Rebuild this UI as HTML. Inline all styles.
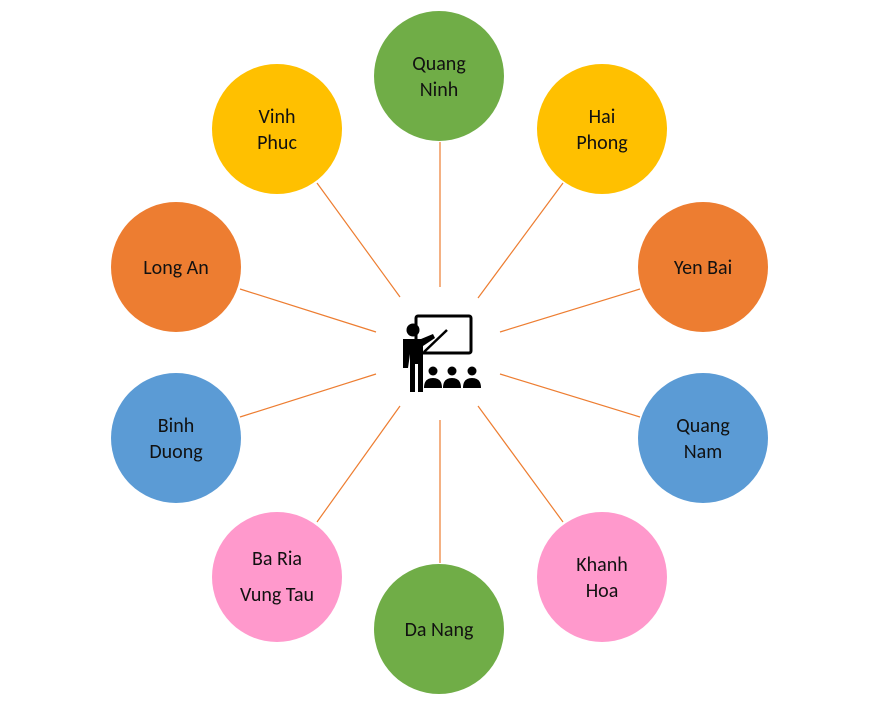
<html><body style="margin:0;background:#fff;width:883px;height:716px;overflow:hidden">
<svg width="883" height="716" xmlns="http://www.w3.org/2000/svg" font-family="Calibri, 'Liberation Sans', sans-serif" font-size="20" text-anchor="middle">
<g stroke="#ED7D31" stroke-width="1.2">
<line x1="440" y1="142" x2="440" y2="287"/><line x1="440" y1="420" x2="440" y2="563"/>
<line x1="317" y1="183" x2="400" y2="297"/><line x1="563" y1="183" x2="478" y2="298"/>
<line x1="240" y1="289" x2="376" y2="332"/><line x1="640" y1="289" x2="500" y2="332"/>
<line x1="240" y1="417" x2="376" y2="374"/><line x1="640" y1="417" x2="500" y2="374"/>
<line x1="317" y1="522" x2="400" y2="406"/><line x1="563" y1="522" x2="478" y2="406"/>
</g>
<circle cx="439" cy="76" r="65" fill="#70AD47"/>
<circle cx="277" cy="129" r="65" fill="#FFC000"/>
<circle cx="602" cy="129" r="65" fill="#FFC000"/>
<circle cx="176" cy="267" r="65" fill="#ED7D31"/>
<circle cx="703" cy="267" r="65" fill="#ED7D31"/>
<circle cx="176" cy="438" r="65" fill="#5B9BD5"/>
<circle cx="703" cy="438" r="65" fill="#5B9BD5"/>
<circle cx="277" cy="577" r="65" fill="#FF99CC"/>
<circle cx="602" cy="577" r="65" fill="#FF99CC"/>
<circle cx="439" cy="629" r="65" fill="#70AD47"/>
<g fill="#111">
<text x="439" y="70">Quang</text><text x="439" y="96">Ninh</text>
<text x="277" y="123">Vinh</text><text x="277" y="149">Phuc</text>
<text x="602" y="123">Hai</text><text x="602" y="149">Phong</text>
<text x="176" y="274">Long An</text><text x="703" y="274">Yen Bai</text>
<text x="176" y="432">Binh</text><text x="176" y="458">Duong</text>
<text x="703" y="432">Quang</text><text x="703" y="458">Nam</text>
<text x="277" y="565">Ba Ria</text><text x="277" y="601">Vung Tau</text>
<text x="602" y="571">Khanh</text><text x="602" y="597">Hoa</text>
<text x="439" y="636">Da Nang</text>
</g>
<rect x="416" y="316" width="55" height="37" rx="2" fill="none" stroke="#000" stroke-width="3"/>
<line x1="424" y1="352" x2="447" y2="330" stroke="#000" stroke-width="2.5"/>
<circle cx="413" cy="330" r="6.5" fill="#000"/>
<path d="M403 339 h18 l12 -5 l2 4 l-12 8 v46 h-5 v-28 h-3 v28 h-5 v-28 l-0 -0 v-10 l-2 14 h-5 z" fill="#000"/>
<g fill="#000">
<circle cx="433" cy="371" r="4.5"/><circle cx="452" cy="371" r="4.5"/><circle cx="472" cy="371" r="4.5"/>
<path d="M424 388 q0 -10 9 -10 q9 0 9 10 z M443 388 q0 -10 9 -10 q9 0 9 10 z M463 388 q0 -10 9 -10 q9 0 9 10 z"/>
</g>
</svg>
</body></html>
